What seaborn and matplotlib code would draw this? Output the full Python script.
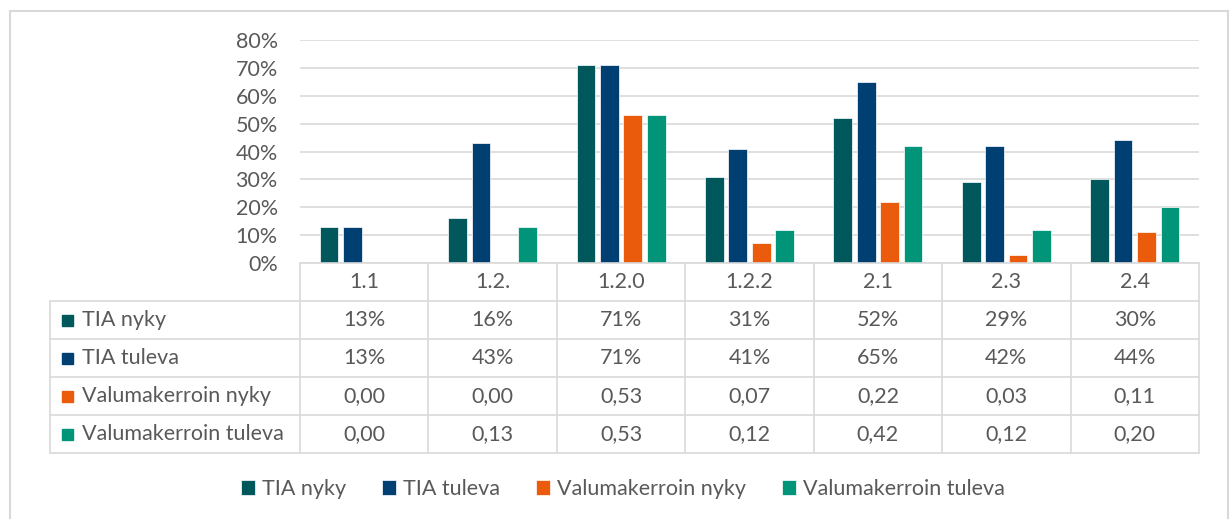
import pandas as pd
import seaborn as sns
import matplotlib.pyplot as plt
from matplotlib.patches import Rectangle
from matplotlib.transforms import blended_transform_factory

# data
alueet = ["1.1", "1.2.", "1.2.0", "1.2.2", "2.1", "2.3", "2.4"]
sarjat = ["TIA nyky", "TIA tuleva", "Valumakerroin nyky", "Valumakerroin tuleva"]
tia_nyky = [0.13, 0.16, 0.71, 0.31, 0.52, 0.29, 0.30]
tia_tuleva = [0.13, 0.43, 0.71, 0.41, 0.65, 0.42, 0.44]
valuma_nyky = [0.00, 0.00, 0.53, 0.07, 0.22, 0.03, 0.11]
valuma_tuleva = [0.00, 0.13, 0.53, 0.12, 0.42, 0.12, 0.20]
varit = ["#00575C", "#003F72", "#EA5B0C", "#009579"]

arvot = [tia_nyky, tia_tuleva, valuma_nyky, valuma_tuleva]
df = pd.DataFrame({
    "alue": alueet * 4,
    "sarja": [s for s in sarjat for _ in alueet],
    "arvo": tia_nyky + tia_tuleva + valuma_nyky + valuma_tuleva,
})

sns.set_style("white")
plt.rcParams["font.family"] = ["Lato", "DejaVu Sans"]
teksti = "#595959"
viiva = "#D9D9D9"
fs = 15.5

W, H = 1230, 519
fig = plt.figure(figsize=(W / 100, H / 100), dpi=100)
fx = lambda px: px / W
fy = lambda px: 1 - px / H

ax = fig.add_axes([fx(300), fy(263), fx(1199) - fx(300), fy(40) - fy(263)])
sns.barplot(data=df, x="alue", y="arvo", hue="sarja", palette=varit, saturation=1,
            width=0.73, gap=0.2, edgecolor="white", linewidth=0.5, ax=ax)
handles, labels = ax.get_legend_handles_labels()
ax.get_legend().remove()

ax.set_xlim(-0.5, len(alueet) - 0.5)
ax.set_ylim(0, 0.8)
ax.set_yticks([i / 10 for i in range(9)])
ax.set_yticklabels([f"{i * 10}%" for i in range(9)])
ax.tick_params(axis="y", length=0, pad=16, labelsize=fs, labelcolor=teksti)
ax.set_xticks([])
ax.set_xlabel("")
ax.set_ylabel("")
ax.grid(axis="y", color=viiva, linewidth=1.2)
ax.set_axisbelow(True)
for s in ax.spines.values():
    s.set_visible(False)

# data table below the chart
tr = blended_transform_factory(ax.transData, fig.transFigure)
x_right = ax.get_position().x1
rivit = [263 + 38 * i for i in range(6)]
lw = 1.2
for i in range(len(alueet) + 1):
    fig.add_artist(plt.Line2D([i - 0.5, i - 0.5], [fy(263), fy(rivit[-1])],
                              transform=tr, color=viiva, lw=lw))
fig.add_artist(plt.Line2D([-0.5, len(alueet) - 0.5], [fy(263), fy(263)],
                          transform=tr, color=viiva, lw=lw))
fig.add_artist(plt.Line2D([fx(50), fx(50)], [fy(rivit[1]), fy(rivit[-1])],
                          color=viiva, lw=lw))
for r in rivit[1:]:
    fig.add_artist(plt.Line2D([fx(50), x_right], [fy(r), fy(r)], color=viiva, lw=lw))

for i, a in enumerate(alueet):
    fig.text(i, fy(282), a, transform=tr, ha="center", va="center",
             fontsize=fs, color=teksti)

for j, (s, vals) in enumerate(zip(sarjat, arvot)):
    yc = fy(rivit[j + 1] + 19)
    fig.add_artist(Rectangle((fx(62), yc - 5.5 / H), 11 / W, 11 / H,
                             transform=fig.transFigure, color=varit[j]))
    fig.text(fx(82), yc, s, ha="left", va="center", fontsize=fs, color=teksti)
    for i, v in enumerate(vals):
        if j < 2:
            txt = f"{round(v * 100)}%"
        else:
            txt = f"{v:.2f}".replace(".", ",")
        fig.text(i, yc, txt, transform=tr, ha="center", va="center",
                 fontsize=fs, color=teksti)

fig.legend(handles, labels, loc="center", bbox_to_anchor=(fx(623), fy(489)),
           ncol=4, frameon=False, fontsize=fs, labelcolor=teksti,
           handlelength=0.65, handleheight=0.65, handletextpad=0.3,
           columnspacing=1.7)

# outer frame
fig.add_artist(Rectangle((fx(10), -0.05), fx(1228) - fx(10), fy(11) + 0.05,
                         transform=fig.transFigure, fill=False,
                         edgecolor=viiva, lw=1.5))

fig.savefig("out.png", dpi=100)
